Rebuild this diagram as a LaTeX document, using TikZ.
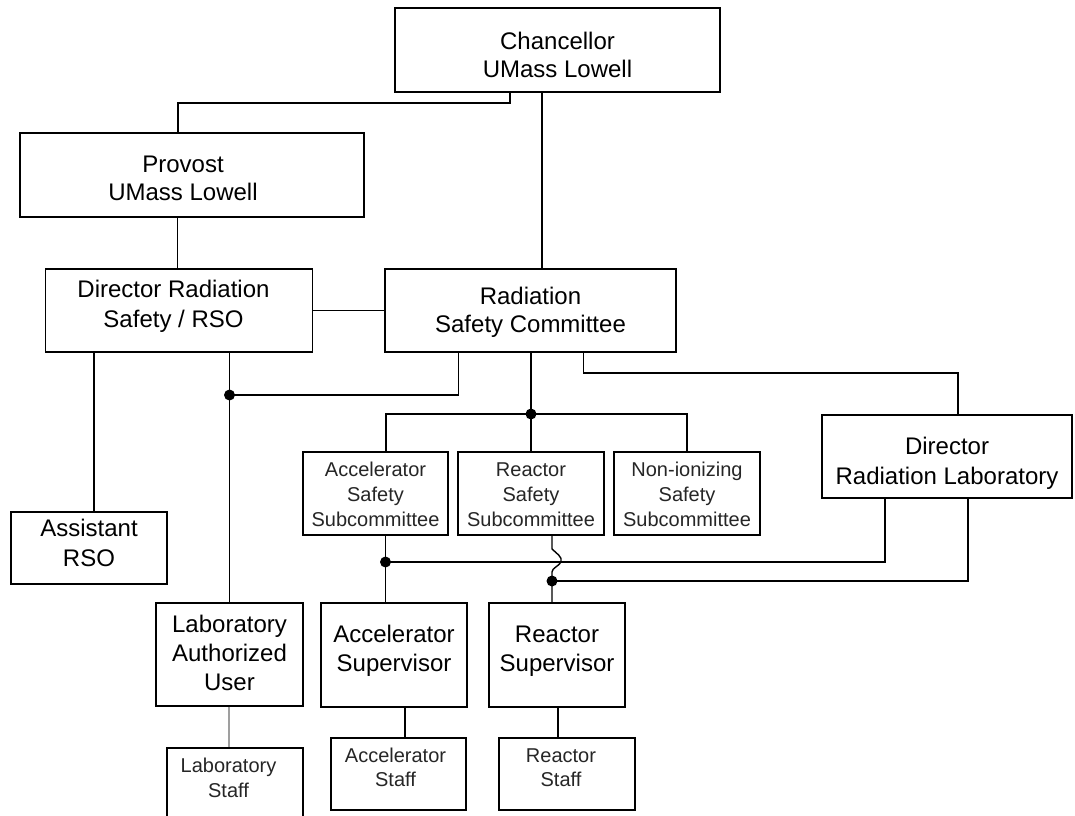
\documentclass[tikz,border=0pt]{standalone}
\usepackage{fontspec}
\setmainfont{Liberation Sans}
% text block: #1 raise, #2 twice the leftward shift, #3 lines
\newcommand{\boxtext}[3]{\raisebox{#1}[0pt][0pt]{\begin{tabular}{@{}c@{}}#3\end{tabular}}\hspace*{#2}}
\begin{document}
\begin{tikzpicture}[x=1pt,y=-1pt,
  box/.style={draw, line width=1.4pt, inner sep=0pt},
  big/.style={box, font=\fontsize{24}{#1}\selectfont},
  big/.default=28,
  small/.style={box, font=\fontsize{20}{#1}\selectfont, text=black!85},
  small/.default=25,
  link/.style={line width=1.4pt},
  dot/.style={circle, fill=black, inner sep=0pt, minimum size=11pt}]
\clip (0,0) rectangle (1075,815);
\fill[white] (0,0) rectangle (1075,815);
% boxes
\node[big, minimum width=325pt, minimum height=84pt] (chan) at (557.5,50) {\boxtext{-14.4pt}{0pt}{Chancellor\\UMass Lowell}};
\node[big, minimum width=344pt, minimum height=84pt] (prov) at (192,175) {\boxtext{-12.4pt}{18pt}{Provost\\UMass Lowell}};
\node[big=30, minimum width=266.5pt, minimum height=83pt] (drso) at (179,310.5) {\boxtext{-2.5pt}{11pt}{Director Radiation\\Safety / RSO}};
\node[big, minimum width=291pt, minimum height=83pt] (rsc) at (530.5,310.5) {\boxtext{-8.9pt}{0pt}{Radiation\\Safety Committee}};
\node[small, minimum width=145pt, minimum height=83pt] (asc) at (375.5,493.5) {\boxtext{-8.5pt}{0pt}{Accelerator\\Safety\\Subcommittee}};
\node[small, minimum width=146pt, minimum height=83pt] (rsub) at (531,493.5) {\boxtext{-8.5pt}{0pt}{Reactor\\Safety\\Subcommittee}};
\node[small, minimum width=146pt, minimum height=83pt] (nsub) at (687,493.5) {\boxtext{-8.5pt}{0pt}{Non-ionizing\\Safety\\Subcommittee}};
\node[big=30, minimum width=250pt, minimum height=83pt] (drl) at (947,456.5) {\boxtext{-13.5pt}{0pt}{Director\\Radiation Laboratory}};
\node[big=30, minimum width=156pt, minimum height=72pt] (arso) at (89,548) {\boxtext{-4pt}{0pt}{Assistant\\RSO}};
\node[big=29, minimum width=147pt, minimum height=103pt] (lau) at (229.5,654.5) {\boxtext{-7.7pt}{0pt}{Laboratory\\Authorized\\User}};
\node[big=29, minimum width=146pt, minimum height=104pt] (asup) at (394,655) {\boxtext{-2.7pt}{0pt}{Accelerator\\Supervisor}};
\node[big=29, minimum width=136pt, minimum height=104pt] (rsup) at (557,655) {\boxtext{-2.7pt}{0pt}{Reactor\\Supervisor}};
\node[small, minimum width=136pt, minimum height=82pt] (lstaff) at (235,789) {\boxtext{3.5pt}{13pt}{Laboratory\\Staff}};
\node[small=24, minimum width=135pt, minimum height=72pt] (astaff) at (398.5,774) {\boxtext{-1.2pt}{6pt}{Accelerator\\Staff}};
\node[small=24, minimum width=136pt, minimum height=72pt] (rstaff) at (567,774) {\boxtext{-1.2pt}{12pt}{Reactor\\Staff}};
% junctions
\node[dot] (j1) at (229.5,395) {};
\node[dot] (j2) at (531,414) {};
\node[dot] (j3) at (385.5,562) {};
\node[dot] (j4) at (552,581) {};
% connectors
\draw[link] (510,0 |- chan.south) -- (510,103) -| (178,0 |- prov.north);
\draw[link] (542,0 |- chan.south) -- (542,0 |- rsc.north);
\draw[link] (177.5,0 |- prov.south) -- (177.5,0 |- drso.north);
\draw[link] (drso.east) -- (rsc.west);
\draw[link] (94,0 |- drso.south) -- (94,0 |- arso.north);
\draw[link] (229.5,0 |- drso.south) -- (j1.center) -- (229.5,0 |- lau.north);
\draw[link] (458.5,0 |- rsc.south) |- (j1.center);
\draw[link] (531,0 |- rsc.south) -- (j2.center) -- (531,0 |- rsub.north);
\draw[link] (386,0 |- asc.north) |- (687,414) -- (687,0 |- nsub.north);
\draw[link] (583.5,0 |- rsc.south) |- (958,373) -- (958,0 |- drl.north);
\draw[link] (885,0 |- drl.south) |- (j3.center);
\draw[link] (385.5,0 |- asc.south) -- (j3.center) -- (385.5,0 |- asup.north);
\draw[link] (968,0 |- drl.south) |- (j4.center);
\draw[link] (552,0 |- rsub.south) -- (552,549) .. controls (556,553) and (563,557) .. (561,562)
  .. controls (559,566) and (552,568) .. (552,572) -- (j4.center) -- (552,0 |- rsup.north);
\draw[line width=2pt, gray!75] (229,0 |- lau.south) -- (229,0 |- lstaff.north);
\draw[link] (405,0 |- asup.south) -- (405,0 |- astaff.north);
\draw[link] (558,0 |- rsup.south) -- (558,0 |- rstaff.north);
\end{tikzpicture}
\end{document}
